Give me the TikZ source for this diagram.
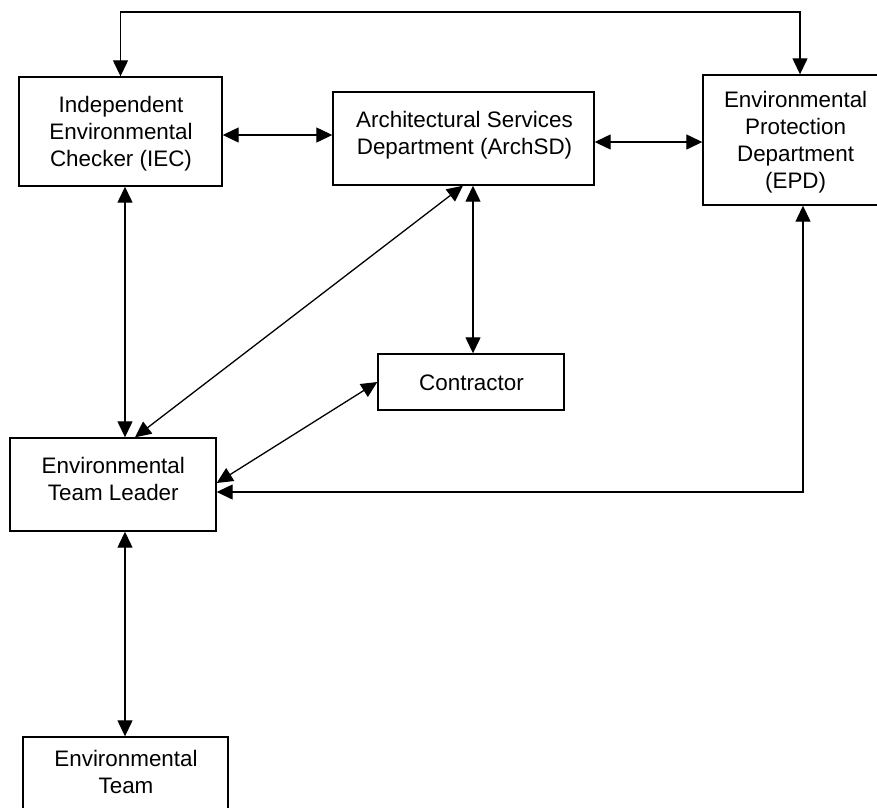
\documentclass[tikz,border=0pt]{standalone}
\usepackage{fontspec}
\setmainfont{Liberation Sans}
\usetikzlibrary{arrows.meta,calc}
\begin{document}
\begin{tikzpicture}[x=1pt,y=-1pt,
  box/.style={draw=black,line width=1.4pt,fill=white,inner sep=0pt},
  txt/.style={align=center,inner sep=0pt,font=\fontsize{22.4}{27}\selectfont},
  arr/.style={line width=1.3pt,{Triangle[length=16pt,width=15pt]}-{Triangle[length=16pt,width=15pt]}}]
\fill[white] (0,0) rectangle (877,807);
\clip (0,0) rectangle (877,807);
\useasboundingbox (0,0) rectangle (877,807);
\node[box,minimum width=203pt,minimum height=109pt] (iec) at (120.5,131.5) {};
\node[box,minimum width=261pt,minimum height=93pt] (arch) at (463.5,138.5) {};
\node[box,minimum width=186pt,minimum height=130pt] (epd) at (796,140) {};
\node[box,minimum width=186pt,minimum height=56pt] (con) at (471,382) {};
\node[box,minimum width=206pt,minimum height=93pt] (etl) at (113,484.5) {};
\node[box,minimum width=205pt,minimum height=92pt] (team) at (125.5,783) {};
\node[txt] (iect) at (121,133.5) {Independent\\Environmental\\Checker (IEC)};
\node[txt] (archt) at (464.5,135) {Architectural Services\\Department (ArchSD)};
\node[txt] (epdt) at (795.6,142.5) {Environmental\\Protection\\Department\\(EPD)};
\node[txt] (cont) at (471.5,383) {Contractor};
\node[txt] (etlt) at (113.3,478.5) {Environmental\\Team Leader};
\node[txt] (teamt) at (126,772) {Environmental\\Team};
\coordinate (epdN) at ($(epd.north)+(4,0)$);
\coordinate (top) at (0,12);
\draw[arr] (iec.north) -- (iec.north |- top) -| (epdN);
\draw[arr] (iec.east |- 0,135) -- (arch.west |- 0,135);
\draw[arr] (arch.east |- 0,142) -- (epd.west |- 0,142);
\draw[arr] (iec.south -| 125,0) -- (etl.north -| 125,0);
\draw[arr] (arch.south -| 463,0) -- (etl.north -| 135,0);
\draw[arr] (arch.south -| 473,0) -- (con.north -| 473,0);
\draw[arr] (con.west) -- (etl.east |- 0,483);
\draw[arr] (epd.south -| 803,0) |- (etl.east |- 0,492);
\draw[arr] (etl.south -| 125,0) -- (team.north -| 125,0);
\end{tikzpicture}
\end{document}
